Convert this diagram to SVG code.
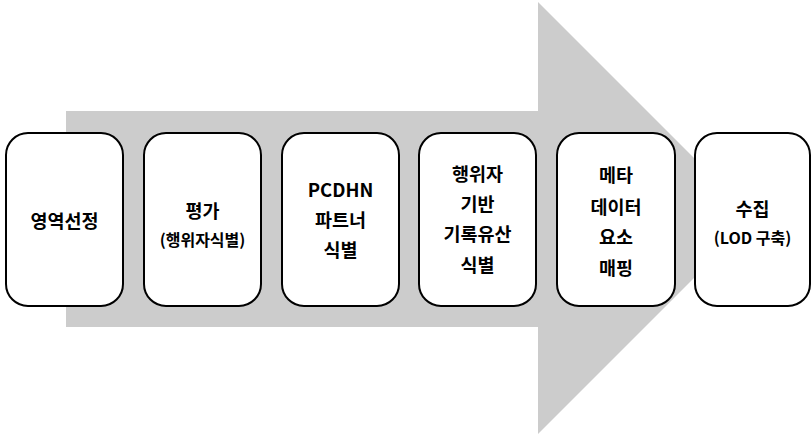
<svg xmlns="http://www.w3.org/2000/svg" width="812" height="438" viewBox="0 0 812 438">
<style>
.box{fill:#ffffff;stroke:#000000;stroke-width:2}
.t{font-family:"Noto Sans CJK KR","Malgun Gothic",sans-serif;font-weight:bold;font-size:18.5px;fill:#000000;text-anchor:middle}
.s{font-size:16px}
</style>
<rect width="812" height="438" fill="#ffffff"/>
<g id="arrow">
<polygon points="66,111 538,111 538,2 754,218 538,434 538,327 66,327" fill="#cccccc"/>
</g>
<g id="connectors"></g>
<g id="n1">
<rect class="box" x="6" y="133" width="117" height="173" rx="22"/>
<text class="t" x="64.5" y="228">영역선정</text>
</g>
<g id="n2">
<rect class="box" x="144" y="133" width="117" height="173" rx="22"/>
<text class="t" x="202.5" y="218">평가</text>
<text class="t s" x="202.5" y="246">(행위자식별)</text>
</g>
<g id="n3">
<rect class="box" x="282" y="133" width="117" height="173" rx="22"/>
<text class="t" x="340.5" y="197">PCDHN</text>
<text class="t" x="340.5" y="227">파트너</text>
<text class="t" x="340.5" y="257">식별</text>
</g>
<g id="n4">
<rect class="box" x="419" y="133" width="117" height="173" rx="22"/>
<text class="t" x="477.5" y="181">행위자</text>
<text class="t" x="477.5" y="211">기반</text>
<text class="t" x="477.5" y="241">기록유산</text>
<text class="t" x="477.5" y="272">식별</text>
</g>
<g id="n5">
<rect class="box" x="557" y="133" width="118" height="173" rx="22"/>
<text class="t" x="616" y="182">메타</text>
<text class="t" x="616" y="214">데이터</text>
<text class="t" x="616" y="244">요소</text>
<text class="t" x="616" y="275">매핑</text>
</g>
<g id="n6">
<rect class="box" x="695" y="133" width="115" height="173" rx="22"/>
<text class="t" x="752.5" y="216">수집</text>
<text class="t s" x="752.5" y="244">(LOD 구축)</text>
</g>
</svg>
